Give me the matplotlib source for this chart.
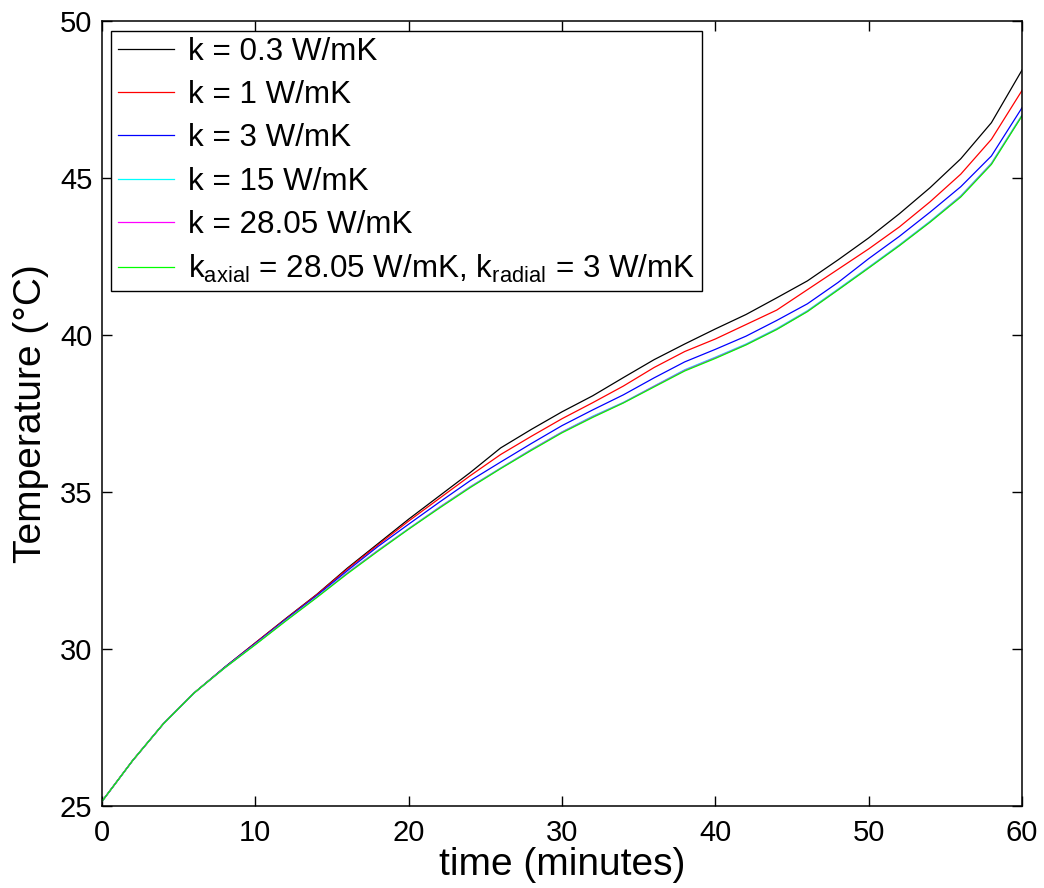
import numpy as np
import matplotlib
matplotlib.use('Agg')
import matplotlib.pyplot as plt

plt.rcParams['font.family'] = ['Liberation Sans', 'DejaVu Sans']
plt.rcParams['mathtext.fontset'] = 'custom'
plt.rcParams['mathtext.rm'] = 'Liberation Sans'
plt.rcParams['mathtext.it'] = 'Liberation Sans'

# time in minutes
time = [0, 2, 4, 6, 8, 10, 12, 14, 16, 18, 20, 22, 24, 26, 28, 30,
        32, 34, 36, 38, 40, 42, 44, 46, 48, 50, 52, 54, 56, 58, 60]

# temperatures (deg C)
k_03 = [25.15, 26.45, 27.62, 28.60, 29.42, 30.20, 30.98, 31.74, 32.58, 33.36,
        34.14, 34.88, 35.62, 36.41, 37.00, 37.56, 38.07, 38.65, 39.22, 39.72,
        40.20, 40.66, 41.19, 41.73, 42.40, 43.10, 43.87, 44.70, 45.62, 46.77, 48.45]
k_1 = [25.15, 26.45, 27.62, 28.60, 29.42, 30.20, 30.97, 31.73, 32.55, 33.32,
       34.08, 34.80, 35.52, 36.20, 36.78, 37.34, 37.85, 38.38, 38.97, 39.48,
       39.88, 40.34, 40.80, 41.45, 42.10, 42.75, 43.45, 44.25, 45.13, 46.24, 47.80]
k_3 = [25.15, 26.45, 27.62, 28.60, 29.42, 30.18, 30.95, 31.70, 32.50, 33.27,
       33.98, 34.68, 35.36, 35.96, 36.55, 37.12, 37.62, 38.10, 38.64, 39.15,
       39.55, 39.97, 40.47, 41.00, 41.68, 42.44, 43.15, 43.92, 44.73, 45.71, 47.25]
k_15 = [25.15, 26.45, 27.62, 28.60, 29.40, 30.15, 30.92, 31.66, 32.43, 33.15,
        33.84, 34.52, 35.17, 35.77, 36.36, 36.92, 37.42, 37.86, 38.38, 38.90,
        39.30, 39.72, 40.21, 40.78, 41.47, 42.17, 42.88, 43.63, 44.44, 45.48, 47.02]
k_2805 = [25.15, 26.45, 27.62, 28.60, 29.40, 30.15, 30.91, 31.65, 32.42, 33.14,
          33.83, 34.51, 35.16, 35.76, 36.35, 36.91, 37.40, 37.85, 38.37, 38.88,
          39.28, 39.70, 40.19, 40.76, 41.45, 42.15, 42.86, 43.61, 44.42, 45.46, 47.00]
k_aniso = [25.15, 26.45, 27.62, 28.60, 29.40, 30.14, 30.90, 31.64, 32.40, 33.12,
           33.82, 34.49, 35.14, 35.75, 36.33, 36.89, 37.38, 37.84, 38.35, 38.86,
           39.26, 39.69, 40.18, 40.75, 41.44, 42.14, 42.85, 43.60, 44.40, 45.44, 46.99]

series = [k_03, k_1, k_3, k_15, k_2805, k_aniso]
labels = ['k = 0.3 W/mK', 'k = 1 W/mK', 'k = 3 W/mK', 'k = 15 W/mK',
          'k = 28.05 W/mK',
          r'k$_{\mathrm{axial}}$ = 28.05 W/mK, k$_{\mathrm{radial}}$ = 3 W/mK']
colors = ['black', 'red', 'blue', 'cyan', 'magenta', 'lime']

fig = plt.figure(figsize=(10.44, 8.88), dpi=100)
ax = fig.add_axes([0.0977, 0.0923, 0.8813, 0.8837])

for y, lab, c in zip(series, labels, colors):
    ax.plot(time, y, color=c, lw=0.9, label=lab)

ax.set_xlim(0, 60)
ax.set_ylim(25, 50)
ax.set_xticks(range(0, 61, 10))
ax.set_yticks(range(25, 51, 5))
ax.tick_params(direction='in', top=True, right=True, length=7, width=1,
               labelsize=21)
ax.tick_params(axis='x', pad=9)
ax.tick_params(axis='y', pad=7)
for s in ax.spines.values():
    s.set_linewidth(1.1)

ax.set_xlabel('time (minutes)', fontsize=28, labelpad=0)
ax.set_ylabel('Temperature (°C)', fontsize=28, labelpad=8)

leg = ax.legend(loc='upper left', fontsize=22.6, frameon=True, fancybox=False,
                edgecolor='black', handlelength=1.8, handletextpad=0.45,
                labelspacing=0.42, borderpad=0.2, borderaxespad=0.3)
leg.get_frame().set_linewidth(1.0)
leg.get_frame().set_alpha(1)

fig.savefig('out.png', dpi=100)
